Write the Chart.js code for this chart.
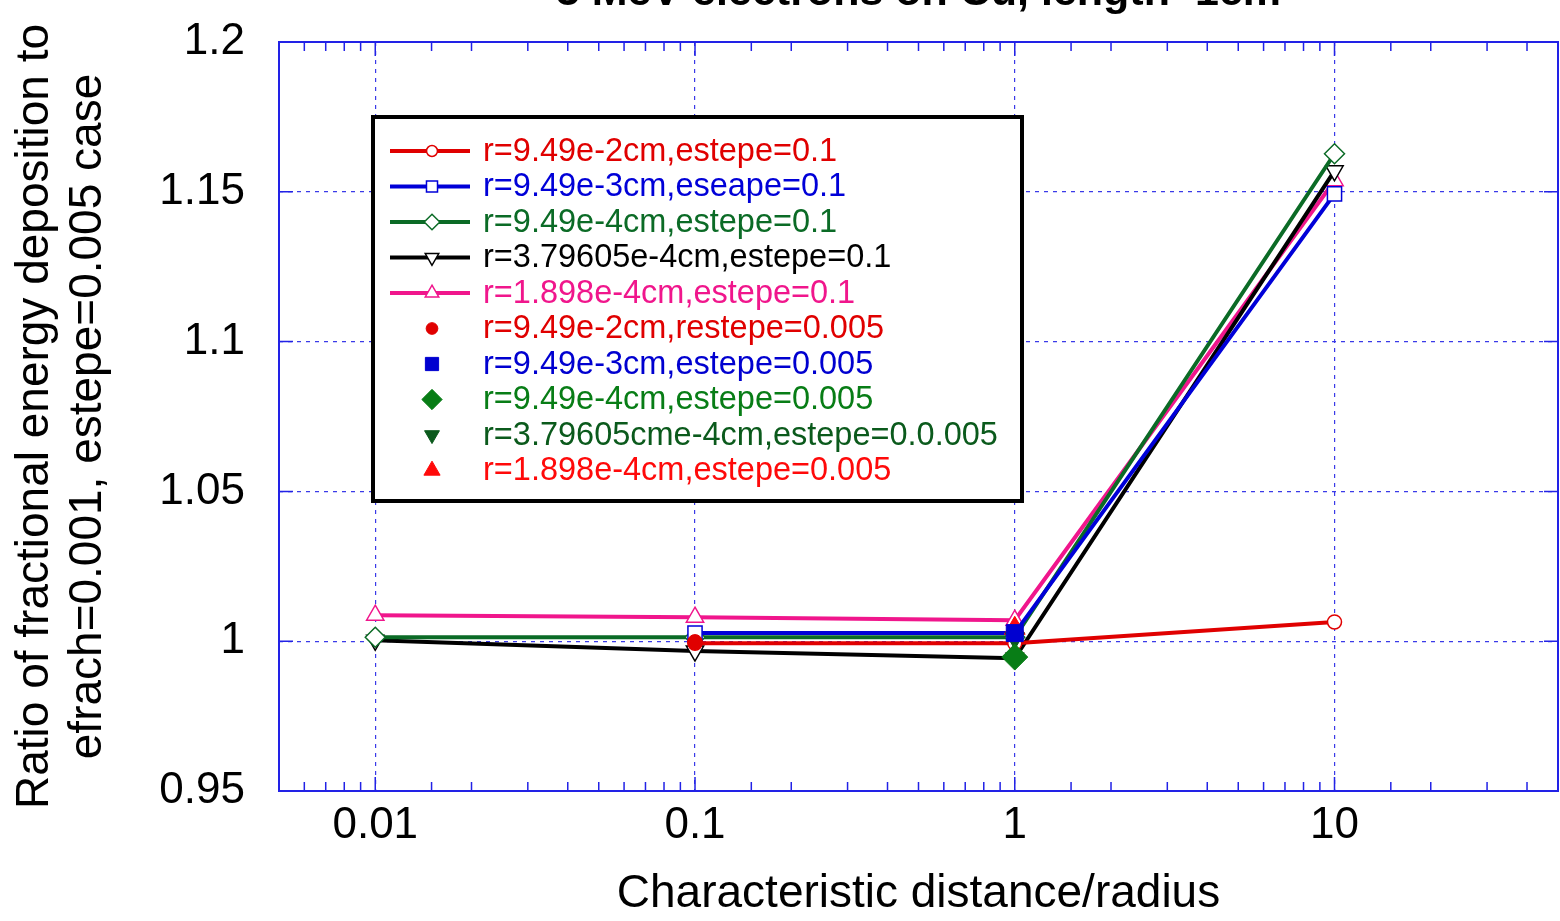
<!DOCTYPE html>
<html>
<head>
<meta charset="utf-8">
<script src="https://cdn.jsdelivr.net/npm/chart.js@4.4.0/dist/chart.umd.min.js"></script>
<style>
  html, body { margin: 0; padding: 0; background: #fff; overflow: hidden; }
  #wrap { position: relative; width: 1560px; height: 921px; }
</style>
</head>
<body>
<div id="wrap"><canvas id="grafico"></canvas></div>
<script>
// datos
const distancias = [0.01, 0.1, 1, 10]
const rojoAbierto = [null, 0.9993, 0.9993, 1.0064]
const azulAbierto = [null, 1.0027, 1.0027, 1.1493]
const verdeAbierto = [1.0013, 1.0013, 1.0013, 1.1627]
const negroAbierto = [1.0003, 0.9967, 0.9943, 1.157]
const rosaAbierto = [1.0087, 1.008, 1.007, 1.1537]
const rojoLleno = [null, 0.9997, null, null]
const azulLleno = [null, null, 1.0027, null]
const verdeLleno = [null, null, 0.9947, null]
const verdeOscuroLleno = [null, null, 1.001, null]
const rojoTrianguloLleno = [null, null, 1.0043, null]

const etiquetas = [
  "r=9.49e-2cm,estepe=0.1",
  "r=9.49e-3cm,eseape=0.1",
  "r=9.49e-4cm,estepe=0.1",
  "r=3.79605e-4cm,estepe=0.1",
  "r=1.898e-4cm,estepe=0.1",
  "r=9.49e-2cm,restepe=0.005",
  "r=9.49e-3cm,estepe=0.005",
  "r=9.49e-4cm,estepe=0.005",
  "r=3.79605cme-4cm,estepe=0.0.005",
  "r=1.898e-4cm,estepe=0.005",
]
const ticksY = [0.95, 1, 1.05, 1.1, 1.15, 1.2]
const titulo = "5 MeV electrons on Cu, length=1cm"
const tituloX = "Characteristic distance/radius"
const tituloY = ["Ratio of fractional energy deposition to", "efrach=0.001, estepe=0.005 case"]

const puntos = (valores) =>
  distancias.map((x, i) => ({ x: x, y: valores[i] })).filter((p) => p.y !== null)

const esPotencia10 = (v) => Math.abs(Math.log10(v) - Math.round(Math.log10(v))) < 1e-6

const serieLinea = (label, valores, color, estilo, radio, rotacion) => ({
  label: label,
  data: puntos(valores),
  borderColor: color,
  backgroundColor: color,
  borderWidth: 4,
  pointStyle: estilo,
  pointRotation: rotacion || 0,
  pointRadius: radio,
  pointBorderColor: color,
  pointBackgroundColor: "#fff",
  pointBorderWidth: 1.5,
  showLine: true,
  order: 1,
})

const seriePunto = (label, valores, color, estilo, radio, rotacion) => ({
  label: label,
  data: puntos(valores),
  borderColor: color,
  backgroundColor: color,
  pointStyle: estilo,
  pointRotation: rotacion || 0,
  pointRadius: radio,
  pointBorderColor: color,
  pointBackgroundColor: color,
  pointBorderWidth: 1,
  showLine: false,
  order: 0,
})

const series = [
  serieLinea(etiquetas[0], rojoAbierto, "#e00000", "circle", 7),
  serieLinea(etiquetas[1], azulAbierto, "#0000d8", "rect", 10),
  serieLinea(etiquetas[2], verdeAbierto, "#0b6b26", "rectRot", 10),
  serieLinea(etiquetas[3], negroAbierto, "#000000", "triangle", 10, 180),
  serieLinea(etiquetas[4], rosaAbierto, "#f0168c", "triangle", 10),
  seriePunto(etiquetas[5], rojoLleno, "#e00000", "circle", 7.5),
  seriePunto(etiquetas[6], azulLleno, "#0000d0", "rect", 12),
  seriePunto(etiquetas[7], verdeLleno, "#087d16", "rectRot", 13),
  seriePunto(etiquetas[8], verdeOscuroLleno, "#0b5a1c", "triangle", 11, 180),
  seriePunto(etiquetas[9], rojoTrianguloLleno, "#ff0a0a", "triangle", 12),
]

// marco, marcas de ejes, titulo y leyenda
const decoracion = {
  id: "decoracion",
  beforeDatasetsDraw(chart) {
    const { ctx, chartArea: a, scales } = chart
    ctx.save()
    ctx.strokeStyle = "#2222e6"
    ctx.lineWidth = 1.5
    scales.x.ticks.forEach((t) => {
      const px = scales.x.getPixelForValue(t.value)
      const largo = esPotencia10(t.value) ? 14 : 9
      ctx.beginPath()
      ctx.moveTo(px, a.bottom)
      ctx.lineTo(px, a.bottom - largo)
      ctx.moveTo(px, a.top)
      ctx.lineTo(px, a.top + largo)
      ctx.stroke()
    })
    scales.y.ticks.forEach((t) => {
      const py = scales.y.getPixelForValue(t.value)
      ctx.beginPath()
      ctx.moveTo(a.left, py)
      ctx.lineTo(a.left + 14, py)
      ctx.moveTo(a.right, py)
      ctx.lineTo(a.right - 14, py)
      ctx.stroke()
    })
    ctx.lineWidth = 2
    ctx.strokeRect(a.left, a.top, a.right - a.left, a.bottom - a.top)
    ctx.restore()
  },
  afterDraw(chart) {
    const { ctx, chartArea: a } = chart
    ctx.save()
    // titulo (cortado arriba como en el original)
    ctx.fillStyle = "#000"
    ctx.font = 'bold 43px "Liberation Sans", Arial, sans-serif'
    ctx.textAlign = "center"
    ctx.textBaseline = "alphabetic"
    ctx.fillText(titulo, (a.left + a.right) / 2, 5)

    // leyenda
    const izq = a.left + 94
    const arriba = a.top + 75
    ctx.fillStyle = "#fff"
    ctx.fillRect(izq, arriba, 649, 384)
    ctx.strokeStyle = "#000"
    ctx.lineWidth = 4
    ctx.strokeRect(izq, arriba, 649, 384)
    ctx.font = '32.5px "Liberation Sans", Arial, sans-serif'
    ctx.textAlign = "left"
    ctx.textBaseline = "middle"
    chart.data.datasets.forEach((ds, i) => {
      const y = arriba + 34 + i * 35.5
      if (ds.showLine) {
        ctx.strokeStyle = ds.borderColor
        ctx.lineWidth = 4
        ctx.beginPath()
        ctx.moveTo(izq + 17, y)
        ctx.lineTo(izq + 97, y)
        ctx.stroke()
      }
      ctx.strokeStyle = ds.pointBorderColor
      ctx.fillStyle = ds.pointBackgroundColor
      ctx.lineWidth = ds.pointBorderWidth
      Chart.helpers.drawPoint(ctx, {
        pointStyle: ds.pointStyle,
        rotation: ds.pointRotation,
        radius: ds.pointRadius * 0.78,
        borderWidth: ds.pointBorderWidth,
      }, izq + 59, y)
      ctx.fillStyle = ds.borderColor
      ctx.fillText(ds.label, izq + 110, y + 1)
    })
    ctx.restore()
  },
}

const lienzo = document.getElementById("grafico")

new Chart(lienzo, {
  type: "line",
  data: { datasets: series },
  plugins: [decoracion],
  options: {
    responsive: true,
    maintainAspectRatio: false,
    animation: false,
    layout: { autoPadding: false, padding: { top: 42, right: 2, left: 0, bottom: 0 } },
    plugins: {
      legend: { display: false },
      tooltip: { enabled: false },
    },
    scales: {
      x: {
        type: "logarithmic",
        min: 0.005,
        max: 50,
        afterFit: (escala) => {
          escala.height = 130
          escala.paddingLeft = 0
          escala.paddingRight = 0
        },
        border: { display: false, dash: [4, 5] },
        grid: {
          drawTicks: false,
          lineWidth: 1.2,
          color: (c) => (c.tick && esPotencia10(c.tick.value) ? "#3a3ae8" : "rgba(0,0,0,0)"),
        },
        ticks: {
          autoSkip: false,
          maxRotation: 0,
          padding: 8,
          color: "#000",
          font: { family: '"Liberation Sans", Arial, sans-serif', size: 44 },
          callback: (v) => (esPotencia10(v) ? String(Number(v.toPrecision(1))) : ""),
        },
        title: {
          display: true,
          text: tituloX,
          color: "#000",
          font: { family: '"Liberation Sans", Arial, sans-serif', size: 46, lineHeight: 1.15 },
          padding: { top: 0, bottom: 0 },
        },
      },
      y: {
        min: ticksY[0],
        max: ticksY[ticksY.length - 1],
        afterFit: (escala) => {
          escala.width = 279
          escala.paddingTop = 0
          escala.paddingBottom = 0
        },
        afterBuildTicks: (escala) => { escala.ticks = ticksY.map((v) => ({ value: v })) },
        border: { display: false, dash: [4, 5] },
        grid: { drawTicks: false, lineWidth: 1.2, color: "#3a3ae8" },
        ticks: {
          padding: 34,
          color: "#000",
          font: { family: '"Liberation Sans", Arial, sans-serif', size: 44 },
          callback: (v) => String(Number(v.toFixed(2))),
        },
        title: {
          display: true,
          text: tituloY,
          color: "#000",
          font: { family: '"Liberation Sans", Arial, sans-serif', size: 46, lineHeight: 1.15 },
          padding: { top: 8.5, bottom: 0 },
        },
      },
    },
  },
})
</script>
</body>
</html>
